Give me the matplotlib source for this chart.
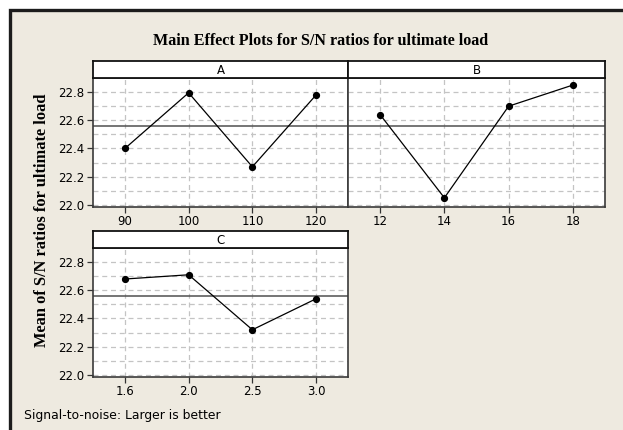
import matplotlib.pyplot as plt
from matplotlib.patches import Rectangle
import numpy as np

# values
levels_A = ['90', '100', '110', '120']
sn_A = [22.40, 22.795, 22.27, 22.78]
levels_B = ['12', '14', '16', '18']
sn_B = [22.64, 22.05, 22.70, 22.85]
levels_C = ['1.6', '2.0', '2.5', '3.0']
sn_C = [22.68, 22.71, 22.32, 22.54]
grand_mean = 22.557
y_ticks = [22.0, 22.2, 22.4, 22.6, 22.8]

W, H = 623, 430
bg = '#eeeae0'
frame = '#1c1c1c'
spine_col = '#3a3a3a'
grid_col = '#c4c4c4'

fig = plt.figure(figsize=(W / 100, H / 100), dpi=100, facecolor='white')

# outer beige panel with dark border on top/left
fig.patches.append(Rectangle((9.5 / W, -0.1), 1.2, (H - 9.5) / H + 0.1,
                             transform=fig.transFigure, facecolor=bg,
                             edgecolor=frame, linewidth=2.4, zorder=-5))


def px(x0, y0, x1, y1):
    """pixel box (top-left origin) -> figure fractions"""
    return [x0 / W, 1 - y1 / H, (x1 - x0) / W, (y1 - y0) / H]


def panel(box, strip_box, name, levels, values, show_y):
    ax = fig.add_axes(px(*box))
    ax.set_facecolor('white')
    x = np.arange(1, len(levels) + 1)
    ax.axhline(grand_mean, color='#505050', lw=1.1, zorder=2)
    ax.plot(x, values, color='black', lw=0.9, marker='o', ms=4.2, zorder=3)
    ax.set_xlim(0.5, len(levels) + 0.5)
    ax.set_ylim(21.985, 22.9)
    ax.set_xticks(x)
    ax.set_xticklabels(levels)
    ax.set_yticks(y_ticks)
    ax.set_yticks(np.arange(22.1, 22.85, 0.2), minor=True)
    ax.grid(True, which='both', axis='y', color=grid_col, ls=(0, (4, 3)), lw=0.9)
    ax.grid(True, which='major', axis='x', color=grid_col, ls=(0, (4, 3)), lw=0.9)
    ax.tick_params(axis='both', which='major', direction='out', length=4,
                   width=0.9, color='#333333', labelsize=8.5, pad=2)
    ax.tick_params(axis='y', which='minor', length=0)
    if not show_y:
        ax.tick_params(axis='y', which='major', left=False, labelleft=False)
    else:
        ax.set_yticklabels([f'{v:.1f}' for v in y_ticks])
    for s in ax.spines.values():
        s.set_color(spine_col)
        s.set_linewidth(1.2)
    ax.set_axisbelow(True)

    sa = fig.add_axes(px(*strip_box))
    sa.set_facecolor('white')
    sa.set_xticks([])
    sa.set_yticks([])
    for s in sa.spines.values():
        s.set_color('#111111')
        s.set_linewidth(1.3)
    sa.text(0.5, 0.45, name, ha='center', va='center', fontsize=8.5)
    return ax


panel((93, 78, 348, 207), (93, 61, 348, 78), 'A', levels_A, sn_A, True)
panel((348, 78, 605, 207), (348, 61, 605, 78), 'B', levels_B, sn_B, False)
panel((93, 248, 348, 377), (93, 231, 348, 248), 'C', levels_C, sn_C, True)

fig.text(321 / W, 1 - 41 / H, 'Main Effect Plots for S/N ratios for ultimate load',
         ha='center', va='center', family='Liberation Serif', weight='bold',
         fontsize=11.6)
fig.text(42 / W, 1 - 220 / H, 'Mean of S/N ratios for ultimate load',
         ha='center', va='center', rotation=90, family='Liberation Serif',
         weight='bold', fontsize=11.8)
fig.text(24 / W, 1 - 415 / H, 'Signal-to-noise: Larger is better',
         ha='left', va='center', fontsize=8.9)

fig.savefig('out.png', dpi=100, facecolor=fig.get_facecolor())
